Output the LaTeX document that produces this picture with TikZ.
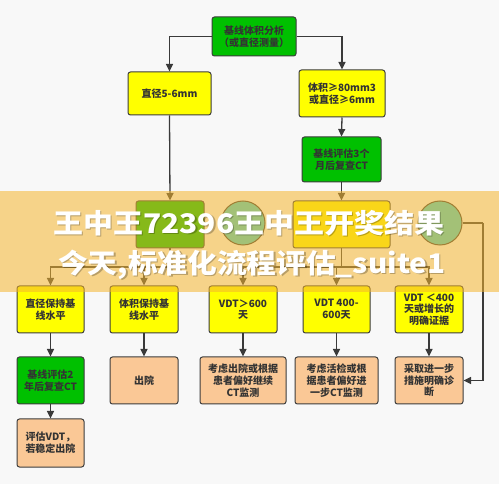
\documentclass[tikz,border=0pt]{standalone}
\usepackage{fontspec}
\newfontfamily\cjk{Noto Sans CJK SC}
\usetikzlibrary{arrows.meta}
\definecolor{bgc}{HTML}{F8F8F8}
\definecolor{grn}{HTML}{00C000}
\definecolor{ylw}{HTML}{FFFF00}
\definecolor{pch}{HTML}{FAC896}
\definecolor{edgec}{HTML}{3C3C3C}
\definecolor{txt}{HTML}{333333}
\definecolor{arr}{HTML}{3A3A3A}
\definecolor{cyn}{HTML}{40D0D0}
\definecolor{band}{HTML}{F5B52E}
\tikzset{
  box/.style={draw=edgec, line width=1pt, rounded corners=2.5pt, align=center, text=txt, inner sep=1pt},
  gbox/.style={box, fill=grn},
  ybox/.style={box, fill=ylw},
  pbox/.style={box, fill=pch},
  cbox/.style={draw=edgec, line width=1pt, circle, fill=cyn, minimum size=44pt, inner sep=0pt},
  conn/.style={draw=arr, line width=1.3pt, -{Triangle[length=7.5pt,width=7pt]}},
  line/.style={draw=arr, line width=1.3pt},
  wm/.style={font=\cjk\bfseries\fontsize{27}{30}\selectfont, text=white, inner sep=0pt, anchor=west},
  wmsh/.style={font=\cjk\bfseries\fontsize{27}{30}\selectfont, text=black, opacity=0.25, inner sep=0pt, anchor=west}
}
\begin{document}
\begin{tikzpicture}[x=1pt,y=-1pt, font=\cjk\bfseries\fontsize{10}{11.7}\selectfont]
\fill[bgc] (0,0) rectangle (499,484);
\useasboundingbox (0,0) rectangle (499,484);

% top part
\node[gbox, minimum width=84pt, minimum height=39pt] (top) at (254,36.5) {基线体积分析\\（或直径测量）};
\node[ybox, minimum width=83pt, minimum height=43pt] (l1) at (169.5,93.5) {直径5-6mm};
\node[ybox, minimum width=86pt, minimum height=47pt] (r1) at (342,93.5) {体积≥80mm3\\或直径≥6mm};
\node[gbox, minimum width=79pt, minimum height=45pt] (r2) at (341.5,159.5) {基线评估3个\\月后复查CT};

% middle row (under banner)
\node[gbox, minimum width=68pt, minimum height=47pt] (ml) at (170,224.5) {};
\node[cbox] (c1) at (243,223) {};
\node[ybox, minimum width=97pt, minimum height=47pt] (mr) at (341.5,224.5) {};
\node[cbox] (c2) at (440,223) {};

% bottom yellow row
\node[ybox, minimum width=67pt, minimum height=47pt] (b1) at (50.5,309.5) {直径保持基\\线水平};
\node[ybox, minimum width=68pt, minimum height=47pt] (b2) at (144,309.5) {体积保持基\\线水平};
\node[ybox, minimum width=68pt, minimum height=47pt] (b3) at (243,309.5) {VDT＞600\\天};
\node[ybox, minimum width=67pt, minimum height=47pt] (b4) at (336.5,309.5) {VDT 400-\\600天};
\node[ybox, minimum width=68pt, minimum height=47pt] (b5) at (429,309.5) {VDT ＜400\\天或增长的\\明确证据};

% third row
\node[gbox, minimum width=67pt, minimum height=47pt] (g1) at (50.5,380.5) {基线评估2\\年后复查CT};
\node[pbox, minimum width=68pt, minimum height=47pt] (p2) at (144,380.5) {出院};
\node[pbox, minimum width=86pt, minimum height=47pt] (p3) at (243,380.5) {考虑出院或根据\\患者偏好继续\\CT监测};
\node[pbox, minimum width=83pt, minimum height=47pt] (p4) at (336.5,380.5) {考虑活检或根\\据患者偏好进\\一步CT监测};
\node[pbox, minimum width=68pt, minimum height=47pt] (p5) at (429,380.5) {采取进一步\\措施明确诊\\断};
\node[pbox, minimum width=67pt, minimum height=48pt] (p1) at (50.5,443) {评估VDT，\\若稳定出院};

% connectors
\draw[conn] (top.west) -| (l1.north);
\draw[conn] (top.east) -| (r1.north);
\draw[conn] (r1.south) -- (r2.north);
\draw[conn] (l1.south) -- (ml.north);
\draw[conn] (r2.south) -- (mr.north);

\coordinate (j1) at (170,267);
\coordinate (j2) at (341.5,267);
\draw[line] (ml.south) -- (j1);
\draw[conn] (j1) -| (b1.north);
\draw[conn] (j1) -| (b2.north);
\draw[line] (mr.south) -- (j2);
\draw[conn] (j2) -| (b3.north);
\draw[conn] (j2) -| (b4.north);
\draw[conn] (j2) -| (b5.north);

\coordinate (k) at (483,223);
\draw[line] (c2.east) -- (k);
\draw[conn] (k) |- (p5.east);

\draw[conn] (b1.south) -- (g1.north);
\draw[conn] (g1.south) -- (p1.north);
\draw[conn] (b2.south) -- (p2.north);
\draw[conn] (b3.south) -- (p3.north);
\draw[conn] (b4.south) -- (p4.north);
\draw[conn] (b5.south) -- (p5.north);

% banner overlay
\fill[band, opacity=0.55] (0,191) rectangle (499,292);
\node[wmsh] at (54.5,224) {\scalebox{1.11}[1]{王中王72396王中王开奖结果}};
\node[wmsh] at (59.5,266) {\scalebox{1.1}[1]{今天,标准化流程评估\_suite1}};
\node[wm] (wm1) at (53,223) {\scalebox{1.11}[1]{王中王72396王中王开奖结果}};
\node[wm] (wm2) at (58,265) {\scalebox{1.1}[1]{今天,标准化流程评估\_suite1}};
\end{tikzpicture}
\end{document}
